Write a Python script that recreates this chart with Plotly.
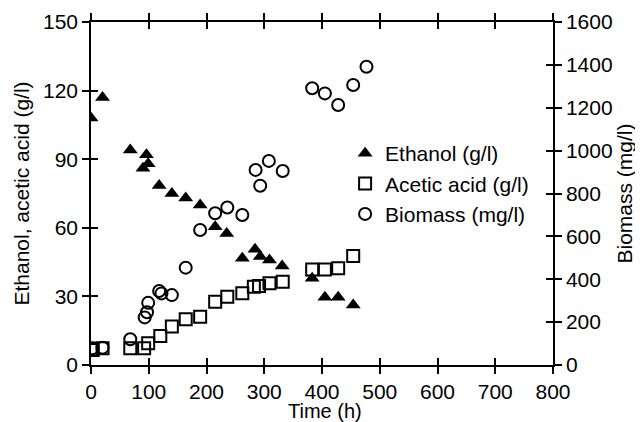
import plotly.graph_objects as go

eth_t = [0, 20, 68, 90, 96, 99, 118, 140, 164, 189, 215, 235, 262, 284, 293, 309, 331, 383, 405, 428, 454]
eth_v = [108, 117, 94, 86, 92, 88, 78.5, 75, 73, 70, 60.5, 57.5, 46.7, 50.6, 47.4, 45.9, 43.3, 37.9, 29.6, 29.6, 26.2]

ace_t = [3, 20, 68, 92, 99, 120, 140, 164, 189, 215, 236, 262, 282, 291, 309, 332, 383, 405, 428, 454]
ace_v = [6.6, 7.3, 7.3, 7.3, 9.5, 12.7, 16.8, 20, 21.1, 27.7, 29.9, 31.4, 34.2, 34.5, 35.7, 36.4, 41.8, 41.8, 42.3, 47.7]

bio_t = [3, 20, 68, 93, 97, 99, 118, 122, 140, 164, 189, 215, 236, 262, 285, 293, 308, 332, 383, 405, 428, 454, 477]
bio_v = [78, 81, 120, 222, 246, 290, 345, 334, 326, 454, 630, 708, 735, 700, 910, 836, 952, 905, 1291, 1267, 1213, 1306, 1391]

x_ticks = [0, 100, 200, 300, 400, 500, 600, 700, 800]
y_ticks = [0, 30, 60, 90, 120, 150]
y2_ticks = [0, 200, 400, 600, 800, 1000, 1200, 1400, 1600]

FONT = "Liberation Sans, Arial, Helvetica, sans-serif"
TITLE_FONT = dict(family=FONT, size=21, color="black")

fig = go.Figure()
fig.add_trace(go.Scatter(x=eth_t, y=eth_v, mode="markers", name="Ethanol (g/l)",
                         marker=dict(symbol="triangle-up", size=13, color="black",
                                     line=dict(width=0))))
fig.add_trace(go.Scatter(x=ace_t, y=ace_v, mode="markers", name="Acetic acid (g/l)",
                         marker=dict(symbol="square-open", size=12, color="black",
                                     line=dict(width=2))))
fig.add_trace(go.Scatter(x=bio_t, y=bio_v, mode="markers", name="Biomass (mg/l)",
                         yaxis="y2",
                         marker=dict(symbol="circle-open", size=12, color="black",
                                     line=dict(width=2))))
# empty traces to activate inner-tick overlay axes
fig.add_trace(go.Scatter(x=[], y=[], xaxis="x3", yaxis="y3", showlegend=False, hoverinfo="skip"))
fig.add_trace(go.Scatter(x=[], y=[], xaxis="x3", yaxis="y4", showlegend=False, hoverinfo="skip"))

common = dict(showgrid=False, zeroline=False, showline=True, linecolor="black",
              linewidth=1.5, tickcolor="black", tickwidth=1.5, ticklen=7,
              automargin=False, tickfont=dict(family=FONT, size=21, color="black"))

fig.update_layout(
    width=635, height=414,
    margin=dict(l=83, r=90, t=14, b=57),
    paper_bgcolor="white", plot_bgcolor="white",
    font=dict(family=FONT, size=20, color="black"),
    showlegend=True,
    legend=dict(x=0.55, y=0.676, xanchor="left", yanchor="top",
                bgcolor="rgba(0,0,0,0)", font=dict(family=FONT, size=21, color="black"),
                itemsizing="trace", tracegroupgap=0),
    xaxis=dict(range=[0, 800], tickvals=x_ticks, ticks="outside", mirror="ticks", **common),
    yaxis=dict(range=[0, 150], tickvals=y_ticks, ticks="outside",
               title=dict(text="Ethanol, acetic acid (g/l)", standoff=8, font=TITLE_FONT), **common),
    yaxis2=dict(range=[0, 1600], tickvals=y2_ticks, ticks="outside", side="right",
                overlaying="y", title=dict(text="Biomass (mg/l)", standoff=4, font=TITLE_FONT), **common),
    xaxis3=dict(range=[0, 800], tickvals=x_ticks, ticks="inside", mirror="ticks",
                showticklabels=False, overlaying="x", anchor="y3", **common),
    yaxis3=dict(range=[0, 150], tickvals=y_ticks, ticks="inside", showticklabels=False,
                overlaying="y", anchor="x3", side="left", **common),
    yaxis4=dict(range=[0, 1600], tickvals=y2_ticks, ticks="inside", showticklabels=False,
                overlaying="y", anchor="x3", side="right", **common),
    annotations=[dict(text="Time (h)", x=0.5, xref="paper", y=0, yref="paper",
                      xanchor="center", yanchor="top", yshift=-33, xshift=3,
                      showarrow=False, font=dict(family=FONT, size=20, color="black"))],
)

fig.write_html("out.html")
